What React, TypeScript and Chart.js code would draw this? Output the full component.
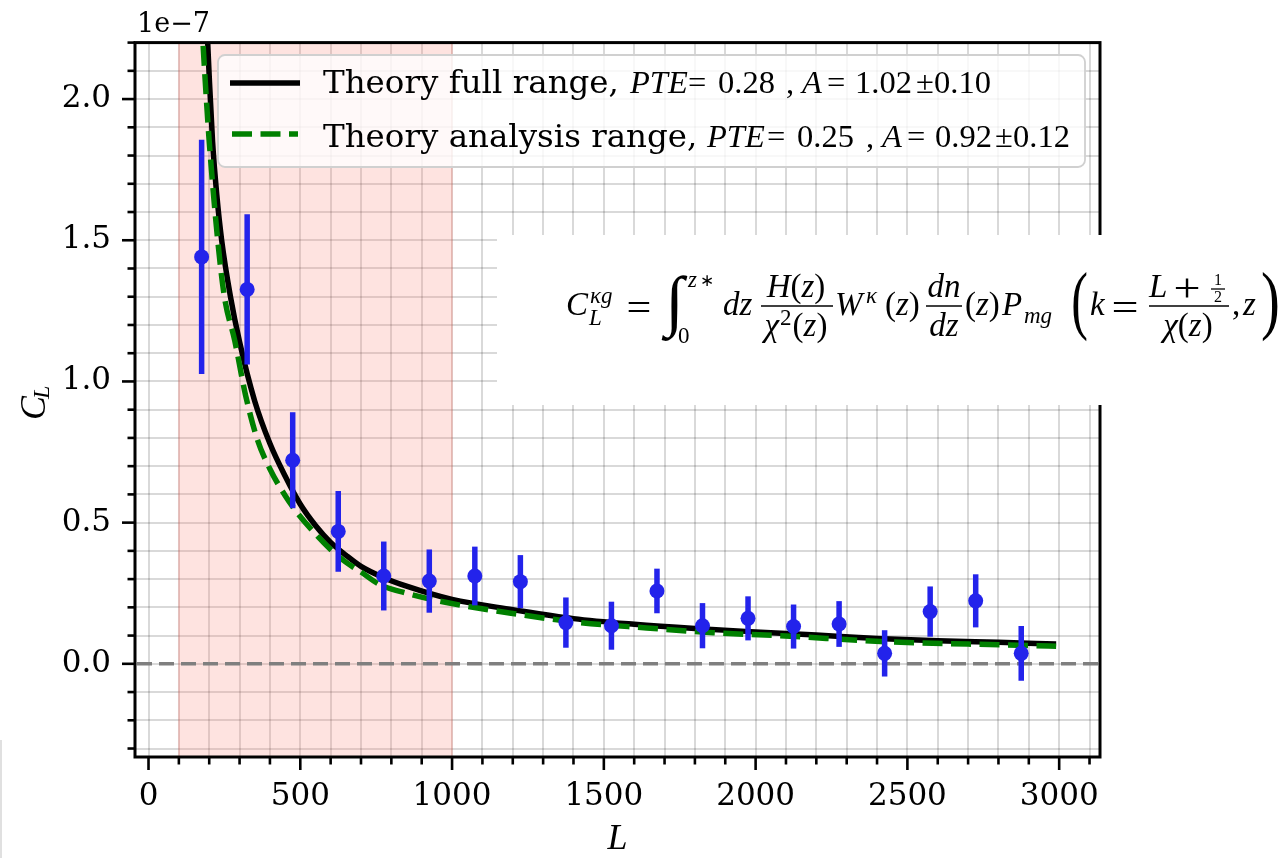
import React, { useEffect, useRef } from "react";
import { Chart, registerables } from "chart.js";

Chart.register(...registerables);

// ---- data (C_L values in units of 1e-7) ----
const binCentersL = [175, 325, 475, 625, 775, 925, 1075, 1225, 1375, 1525, 1675, 1825, 1975, 2125, 2275, 2425, 2575, 2725, 2875];
const clMeasured = [1.441, 1.326, 0.721, 0.469, 0.311, 0.293, 0.311, 0.291, 0.146, 0.135, 0.258, 0.135, 0.161, 0.132, 0.141, 0.037, 0.185, 0.223, 0.037];
const clErrors = [0.415, 0.266, 0.17, 0.143, 0.122, 0.112, 0.104, 0.094, 0.089, 0.085, 0.079, 0.08, 0.078, 0.078, 0.081, 0.082, 0.089, 0.094, 0.097];

const theoryFullL = [190, 195, 200, 211, 225, 241, 270, 300, 350, 400, 450, 500, 550, 600, 650, 700, 775, 850, 1000, 1200, 1400, 1600, 1800, 2000, 2200, 2400, 2600, 2800, 2990];
const theoryFullCl = [2.32, 2.2, 2.08, 1.85, 1.66, 1.5, 1.3, 1.14, 0.93, 0.78, 0.665, 0.565, 0.49, 0.43, 0.385, 0.345, 0.305, 0.275, 0.228, 0.192, 0.16, 0.14, 0.125, 0.113, 0.102, 0.09, 0.082, 0.076, 0.07];

const theoryAnaL = [175, 181, 190, 200, 228, 250, 284, 320, 359, 400, 450, 487, 550, 600, 650, 700, 761, 850, 982, 1200, 1421, 1641, 1860, 2080, 2432, 2700, 2990];
const theoryAnaCl = [2.29, 2.17, 2.01, 1.85, 1.5, 1.3, 1.145, 0.95, 0.793, 0.69, 0.596, 0.539, 0.46, 0.405, 0.36, 0.325, 0.281, 0.25, 0.217, 0.178, 0.146, 0.127, 0.11, 0.0996, 0.078, 0.07, 0.062];

const analysisRange = [100, 1000];
const xLimits = [-44.5, 3134.5];
const yLimits = [-0.33, 2.2];
const legendLabels = ["Theory full range,", "Theory analysis range,"];
const legendPTE = ["0.28", "0.25"];
const legendA = [["1.02", "0.10"], ["0.92", "0.12"]];
const offsetLabel = "1e\u22127";

const BLUE = "rgb(35,35,235)";
const GREEN = "#008000";
const SERIF = '"DejaVu Serif", serif';
const MATH = '"Liberation Serif", serif';

type Seg = [string, boolean];

function runWidth(ctx: CanvasRenderingContext2D, segs: Seg[], size: number) {
  let w = 0;
  for (const [t, it] of segs) {
    ctx.font = `${it ? "italic " : ""}${size}px ${MATH}`;
    w += ctx.measureText(t).width;
  }
  return w;
}
function drawRun(ctx: CanvasRenderingContext2D, segs: Seg[], x: number, y: number, size: number) {
  ctx.textAlign = "left";
  ctx.textBaseline = "alphabetic";
  for (const [t, it] of segs) {
    ctx.font = `${it ? "italic " : ""}${size}px ${MATH}`;
    ctx.fillText(t, x, y);
    x += ctx.measureText(t).width;
  }
  return x;
}
function drawRunCentered(ctx: CanvasRenderingContext2D, segs: Seg[], cx: number, y: number, size: number) {
  const w = runWidth(ctx, segs, size);
  drawRun(ctx, segs, cx - w / 2, y, size);
}
function fitText(ctx: CanvasRenderingContext2D, text: string, font: string, l: number, t: number, r: number, b: number) {
  ctx.save();
  ctx.font = font;
  ctx.textAlign = "left";
  ctx.textBaseline = "alphabetic";
  const m = ctx.measureText(text);
  const w = m.actualBoundingBoxLeft + m.actualBoundingBoxRight;
  const h = m.actualBoundingBoxAscent + m.actualBoundingBoxDescent;
  ctx.translate(l, t);
  ctx.scale((r - l) / w, (b - t) / h);
  ctx.fillText(text, m.actualBoundingBoxLeft, m.actualBoundingBoxAscent);
  ctx.restore();
}
function hline(ctx: CanvasRenderingContext2D, x0: number, x1: number, y: number, w = 1.6) {
  ctx.beginPath();
  ctx.lineWidth = w;
  ctx.moveTo(x0, y);
  ctx.lineTo(x1, y);
  ctx.stroke();
}

export default function App() {
  const ref = useRef<HTMLCanvasElement>(null);

  useEffect(() => {
    const canvas = ref.current!;

    const decorations = {
      id: "decorations",
      beforeDatasetsDraw(chart: any) {
        const { ctx, chartArea: a, scales } = chart;
        const x0 = scales.x.getPixelForValue(analysisRange[0]);
        const x1 = scales.x.getPixelForValue(analysisRange[1]);
        ctx.save();
        ctx.fillStyle = "rgba(250,128,114,0.22)";
        ctx.fillRect(x0, a.top, x1 - x0, a.bottom - a.top);
        ctx.strokeStyle = "rgba(250,128,114,0.25)";
        ctx.lineWidth = 1.8;
        ctx.beginPath();
        ctx.moveTo(x0, a.top); ctx.lineTo(x0, a.bottom);
        ctx.moveTo(x1, a.top); ctx.lineTo(x1, a.bottom);
        ctx.stroke();
        // zero line
        const y0 = scales.y.getPixelForValue(0);
        ctx.strokeStyle = "#7f7f7f";
        ctx.lineWidth = 3.5;
        ctx.setLineDash([15, 7]);
        ctx.beginPath();
        ctx.moveTo(a.left + 2, y0);
        ctx.lineTo(a.right, y0);
        ctx.stroke();
        ctx.restore();
      },
      beforeDatasetDraw(chart: any, args: any) {
        if (args.index !== 0) return;
        const { ctx, scales } = chart;
        ctx.save();
        ctx.strokeStyle = BLUE;
        ctx.lineWidth = 5.5;
        ctx.lineCap = "butt";
        binCentersL.forEach((L, i) => {
          const px = scales.x.getPixelForValue(L);
          const top = scales.y.getPixelForValue(clMeasured[i] + clErrors[i]);
          const bot = scales.y.getPixelForValue(clMeasured[i] - clErrors[i]);
          ctx.beginPath();
          ctx.moveTo(px, top);
          ctx.lineTo(px, bot);
          ctx.stroke();
        });
        ctx.restore();
      },
      afterDatasetsDraw(chart: any) {
        const { ctx } = chart;
        ctx.save();
        // legend box
        ctx.beginPath();
        ctx.roundRect(218, 55, 867, 112, 7);
        ctx.fillStyle = "rgba(255,255,255,0.8)";
        ctx.fill();
        ctx.strokeStyle = "#d0d0d0";
        ctx.lineWidth = 1.8;
        ctx.stroke();
        // handles
        ctx.strokeStyle = "#000";
        hline(ctx, 230, 300, 83, 5.5);
        ctx.strokeStyle = GREEN;
        ctx.setLineDash([20, 8.5]);
        hline(ctx, 232, 298, 134, 5.5);
        ctx.setLineDash([]);
        // labels
        ctx.fillStyle = "#000";
        ctx.font = `32.5px ${SERIF}`;
        ctx.textAlign = "left";
        ctx.textBaseline = "alphabetic";
        ctx.fillText(legendLabels[0], 323, 93);
        ctx.fillText(legendLabels[1], 323, 147);
        const rows = [
          { y: 93, xs: [630, 688, 718, 786, 802, 827, 855, 916, 934] },
          { y: 147, xs: [707, 767, 797, 866, 882, 907, 935, 995, 1013] },
        ];
        rows.forEach((r, i) => {
          const s = 32.5;
          drawRun(ctx, [["PTE", true]], r.xs[0], r.y, s);
          drawRun(ctx, [["=", false]], r.xs[1], r.y, s);
          drawRun(ctx, [[legendPTE[i], false]], r.xs[2], r.y, s);
          drawRun(ctx, [[",", false]], r.xs[3], r.y, s);
          drawRun(ctx, [["A", true]], r.xs[4], r.y, s);
          drawRun(ctx, [["=", false]], r.xs[5], r.y, s);
          drawRun(ctx, [[legendA[i][0], false]], r.xs[6], r.y, s);
          drawRun(ctx, [["\u00b1", false]], r.xs[7], r.y, s);
          drawRun(ctx, [[legendA[i][1], false]], r.xs[8], r.y, s);
        });
        ctx.restore();
      },
      afterDraw(chart: any) {
        const { ctx, chartArea: a, scales } = chart;
        ctx.save();
        // ticks
        ctx.strokeStyle = "#000";
        ctx.lineWidth = 2.6;
        scales.x.ticks.forEach((t: any) => {
          const px = scales.x.getPixelForValue(t.value);
          const major = Math.abs(t.value / 500 - Math.round(t.value / 500)) < 1e-6;
          ctx.beginPath();
          ctx.moveTo(px, a.bottom);
          ctx.lineTo(px, a.bottom + (major ? 13 : 7.5));
          ctx.stroke();
        });
        scales.y.ticks.forEach((t: any) => {
          const py = scales.y.getPixelForValue(t.value);
          const major = Math.abs(t.value * 2 - Math.round(t.value * 2)) < 1e-6;
          ctx.beginPath();
          ctx.moveTo(a.left, py);
          ctx.lineTo(a.left - (major ? 13 : 7.5), py);
          ctx.stroke();
        });
        // spines
        ctx.lineWidth = 3;
        ctx.strokeRect(a.left, a.top, a.right - a.left, a.bottom - a.top);

        // offset text
        ctx.fillStyle = "#000";
        ctx.font = `27px ${SERIF}`;
        ctx.textAlign = "left";
        ctx.textBaseline = "alphabetic";
        ctx.fillText(offsetLabel, 137, 32);

        // axis titles
        ctx.font = `italic 36px ${MATH}`;
        ctx.textAlign = "center";
        ctx.fillText("L", (a.left + a.right) / 2, 849);
        ctx.save();
        ctx.translate(45, 420);
        ctx.rotate(-Math.PI / 2);
        ctx.textAlign = "left";
        ctx.font = `italic 36px ${MATH}`;
        ctx.fillText("C", 0, 0);
        const cw = ctx.measureText("C").width;
        ctx.font = `italic 24px ${MATH}`;
        ctx.fillText("L", cw - 3, 4);
        ctx.restore();

        // formula box
        ctx.fillStyle = "#fff";
        ctx.fillRect(497, 235, 1283 - 497, 170);
        ctx.fillStyle = "#000";
        ctx.strokeStyle = "#000";
        const S = 33, s = 23;
        drawRun(ctx, [["C", true]], 566, 315, S);
        drawRun(ctx, [["\u03ba", true], ["g", true]], 590, 303, s);
        drawRun(ctx, [["L", true]], 589, 325, s);
        fitText(ctx, "=", `30px ${MATH}`, 628, 302, 650, 312);
        fitText(ctx, "\u222b", `italic 60px ${MATH}`, 662, 275, 688, 342);
        drawRun(ctx, [["z", true]], 688, 287, s);
        drawRun(ctx, [["\u2217", false]], 700, 286, 17);
        drawRun(ctx, [["0", false]], 678, 343, s);
        drawRun(ctx, [["dz", true]], 723, 315, S);
        drawRunCentered(ctx, [["H", true], ["(", false], ["z", true], [")", false]], 796, 297, S);
        hline(ctx, 761, 833, 306);
        {
          const segsA: Seg[] = [["\u03c7", true]];
          const segsB: Seg[] = [["(", false], ["z", true], [")", false]];
          const wa = runWidth(ctx, segsA, S), w2 = runWidth(ctx, [["2", false]], s), wb = runWidth(ctx, segsB, S);
          let x = 796 - (wa + w2 + wb + 2) / 2;
          x = drawRun(ctx, segsA, x, 336, S) + 1;
          x = drawRun(ctx, [["2", false]], x, 325, s) + 1;
          drawRun(ctx, segsB, x, 336, S);
        }
        drawRun(ctx, [["W", true]], 835, 315, S);
        drawRun(ctx, [["\u03ba", true]], 866, 303, s);
        drawRun(ctx, [["(", false], ["z", true], [")", false]], 885, 315, S);
        drawRunCentered(ctx, [["dn", true]], 944, 297, S);
        hline(ctx, 926, 962, 306);
        drawRunCentered(ctx, [["dz", true]], 944, 336, S);
        drawRun(ctx, [["(", false], ["z", true], [")", false]], 965, 315, S);
        drawRun(ctx, [["P", true]], 1002, 315, S);
        drawRun(ctx, [["mg", true]], 1024, 323, s);
        fitText(ctx, "(", `30px ${MATH}`, 1073, 272, 1088, 343);
        drawRun(ctx, [["k", true]], 1090, 315, S);
        fitText(ctx, "=", `30px ${MATH}`, 1113, 302, 1137, 312);
        drawRun(ctx, [["L", true]], 1149, 297, S);
        fitText(ctx, "+", `30px ${MATH}`, 1175, 278, 1199, 298);
        drawRunCentered(ctx, [["1", false]], 1218, 285, 16);
        hline(ctx, 1211, 1225, 289, 1.3);
        drawRunCentered(ctx, [["2", false]], 1218, 302, 16);
        hline(ctx, 1149, 1229, 306);
        drawRunCentered(ctx, [["\u03c7", true], ["(", false], ["z", true], [")", false]], 1188, 336, S);
        drawRun(ctx, [[",", false]], 1232, 315, S);
        drawRun(ctx, [["z", true]], 1243, 315, S);
        fitText(ctx, ")", `30px ${MATH}`, 1261, 272, 1278, 343);

        // small artifact strip at left
        ctx.fillStyle = "#e0e0e0";
        ctx.fillRect(0, 740, 2, 118);
        ctx.restore();
      },
    };

    const chart = new Chart(canvas, {
      type: "scatter",
      data: {
        datasets: [
          {
            label: "data",
            data: binCentersL.map((L, i) => ({ x: L, y: clMeasured[i] })),
            backgroundColor: BLUE,
            borderColor: BLUE,
            borderWidth: 0,
            pointRadius: 7.5,
            pointHoverRadius: 7.5,
            order: 0,
          },
          {
            label: "Theory full range",
            data: theoryFullL.map((L, i) => ({ x: L, y: theoryFullCl[i] })),
            showLine: true,
            borderColor: "#000",
            borderWidth: 5.5,
            pointRadius: 0,
            cubicInterpolationMode: "monotone",
            fill: false,
            order: 2,
          },
          {
            label: "Theory analysis range",
            data: theoryAnaL.map((L, i) => ({ x: L, y: theoryAnaCl[i] })),
            showLine: true,
            borderColor: GREEN,
            borderWidth: 5.5,
            borderDash: [20, 8.5],
            pointRadius: 0,
            cubicInterpolationMode: "monotone",
            fill: false,
            order: 1,
          },
        ],
      } as any,
      options: {
        animation: false,
        responsive: false,
        devicePixelRatio: 1,
        events: [],
        layout: { padding: { left: 0, top: 38, right: 183, bottom: 0 } },
        plugins: { legend: { display: false }, tooltip: { enabled: false }, title: { display: false } },
        scales: {
          x: {
            type: "linear",
            min: xLimits[0],
            max: xLimits[1],
            afterFit: (s: any) => { s.height = 101; },
            border: { display: false },
            grid: { color: "rgba(0,0,0,0.15)", lineWidth: 2, drawTicks: false },
            ticks: {
              stepSize: 100,
              includeBounds: false,
              autoSkip: false,
              maxRotation: 0,
              minRotation: 0,
              padding: 21,
              color: "#000",
              font: { family: SERIF, size: 31 },
              callback: (v: any) => {
                const n = Number(v);
                return Math.abs(n / 500 - Math.round(n / 500)) < 1e-6 ? String(Math.round(n)) : "";
              },
            },
          },
          y: {
            type: "linear",
            min: yLimits[0],
            max: yLimits[1],
            afterFit: (s: any) => { s.width = 135; },
            border: { display: false },
            grid: { color: "rgba(0,0,0,0.15)", lineWidth: 2, drawTicks: false },
            ticks: {
              stepSize: 0.1,
              includeBounds: false,
              autoSkip: false,
              padding: 24,
              color: "#000",
              font: { family: SERIF, size: 31 },
              callback: (v: any) => {
                const n = Number(v);
                return Math.abs(n * 2 - Math.round(n * 2)) < 1e-6 ? (Math.round(n * 2) / 2).toFixed(1) : "";
              },
            },
          },
        },
      } as any,
      plugins: [decorations],
    });
    return () => chart.destroy();
  }, []);

  return (
    <div style={{ position: "fixed", left: 0, top: 0, width: 1283, height: 858, background: "#fff" }}>
      <canvas ref={ref} width={1283} height={858} style={{ display: "block", width: 1283, height: 858 }} />
    </div>
  );
}
